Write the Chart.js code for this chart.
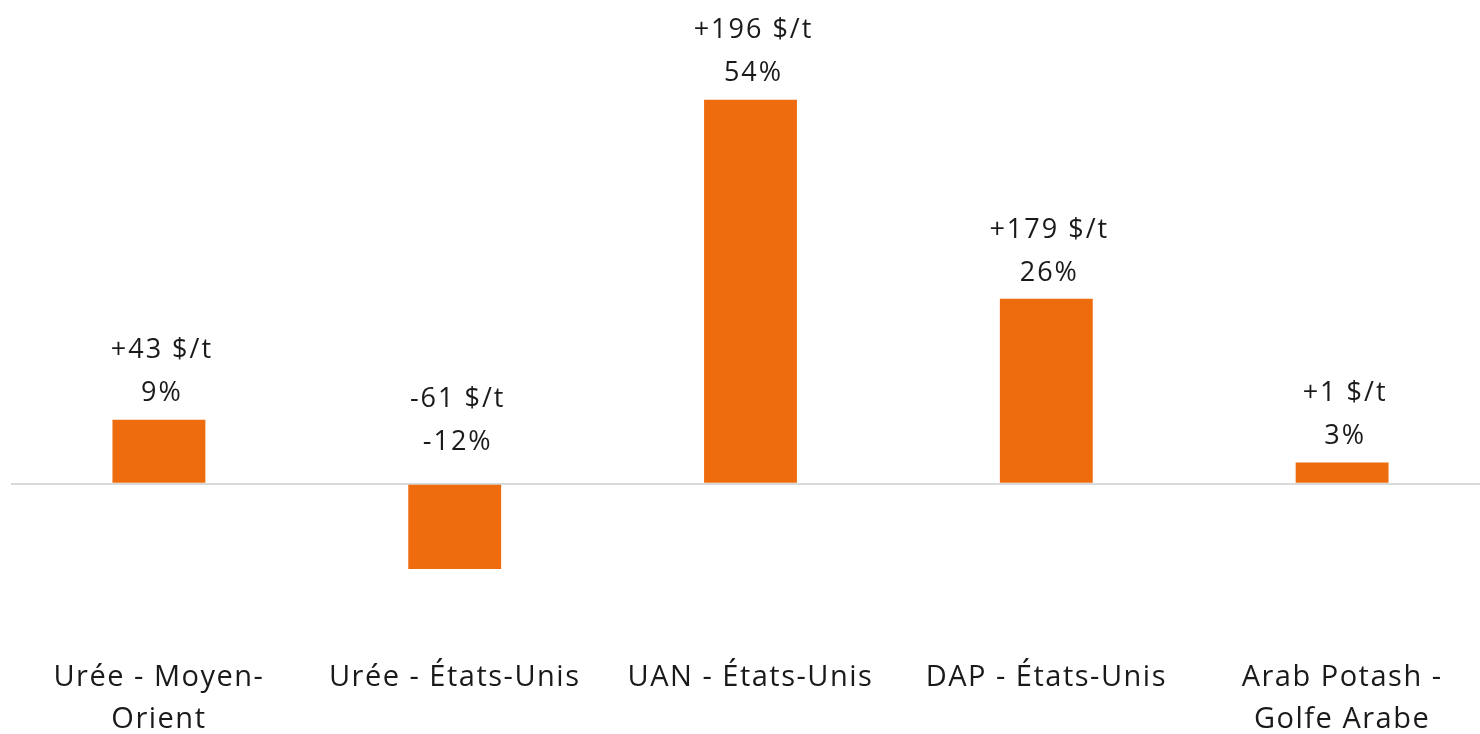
<!DOCTYPE html>
<html>
<head>
<meta charset="utf-8">
<script src="https://cdn.jsdelivr.net/npm/chart.js@4"></script>
<style>
  html, body { margin: 0; padding: 0; background: #fff; overflow: hidden; }
  #wrap { width: 1480px; height: 734px; overflow: hidden; }
</style>
</head>
<body>
<div id="wrap"><canvas id="myChart" width="1490" height="734"></canvas></div>
<script>
// categories, % change, $/t change
var labels = [["Urée - Moyen-", "Orient"], "Urée - États-Unis", "UAN - États-Unis", "DAP - États-Unis", ["Arab Potash -", "Golfe Arabe"]];
var pct = [9, -12, 54, 26, 3];
var usd = [43, -61, 196, 179, 1];

var orange = "#ee6c0e";
var txt = "#1a1a1a";
var fontName = "'Open Sans'";

// wider letters, closer to the original typeface
var spacing = {
  id: "spacing",
  beforeDraw: function(chart) { chart.ctx.letterSpacing = "1.5px"; }
};

var valueLabels = {
  id: "valueLabels",
  afterDatasetsDraw: function(chart) {
    var ctx = chart.ctx;
    var meta = chart.getDatasetMeta(0);
    var zero = chart.scales.y.getPixelForValue(0);
    ctx.save();
    ctx.fillStyle = txt;
    ctx.font = "27px " + fontName;
    ctx.letterSpacing = "2px";
    ctx.textAlign = "center";
    ctx.textBaseline = "middle";
    meta.data.forEach(function(bar, i) {
      var y = pct[i] >= 0 ? bar.y - 26 : zero - 41;
      var s = usd[i] >= 0 ? "+" + usd[i] : String(usd[i]);
      ctx.fillText(pct[i] + "%", bar.x + 3, y);
      ctx.fillText(s + " $/t", bar.x + 3, y - 43);
    });
    ctx.restore();
  }
};

var charts = document.querySelector("#myChart").getContext('2d');
new Chart(charts, {
  type: 'bar',
  data: {
    labels: labels,
    datasets: [{
      data: pct,
      backgroundColor: orange,
      borderWidth: 0,
      categoryPercentage: 1,
      barPercentage: 0.314,
    }],
  },
  options: {
    responsive: false,
    animation: false,
    layout: { padding: { left: 11, top: 57, right: 0, bottom: 0 } },
    plugins: { legend: { display: false }, tooltip: { enabled: false } },
    scales: {
      x: {
        grid: { display: false, drawTicks: false },
        border: { display: false },
        ticks: {
          color: txt,
          font: { family: "'Open Sans'", size: 29, lineHeight: 1.45 },
          padding: 31,
          maxRotation: 0,
          autoSkip: false,
        },
        afterFit: function(s) { s.height = 108; }
      },
      y: {
        min: -20,
        max: 60,
        ticks: { display: false, stepSize: 10 },
        border: { display: false },
        grid: {
          drawTicks: false,
          lineWidth: 2,
          color: function(c) { return c.tick && c.tick.value === 0 ? "#d9d9d9" : "transparent"; }
        },
        afterFit: function(s) { s.width = 0; }
      }
    }
  },
  plugins: [spacing, valueLabels]
});
</script>
</body>
</html>
